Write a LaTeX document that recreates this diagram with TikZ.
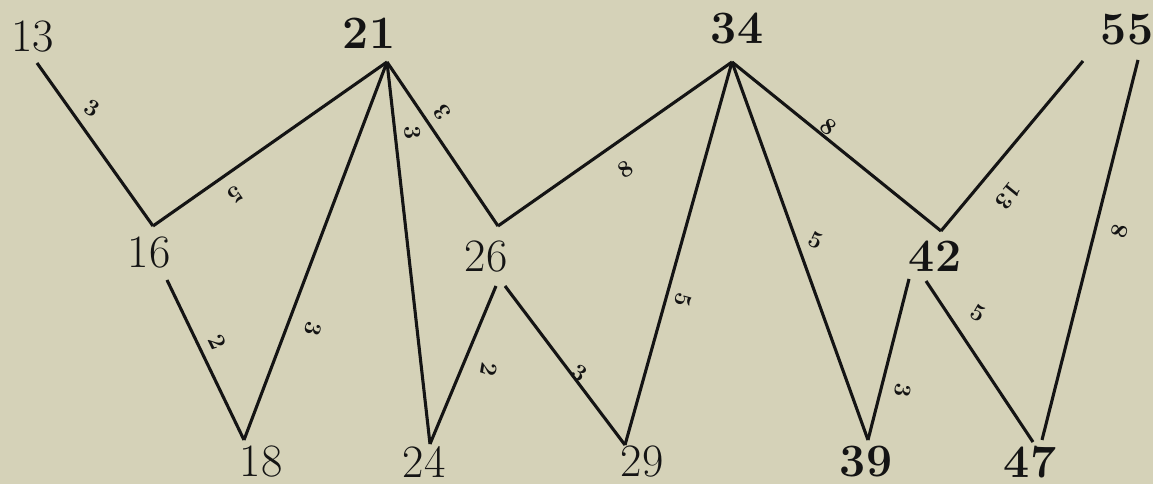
\documentclass[tikz,border=0pt]{standalone}
\usetikzlibrary{positioning}
\definecolor{paper}{RGB}{213,210,184}
\definecolor{ink}{RGB}{20,20,20}
\begin{document}
\begin{tikzpicture}[x=0.025cm, y=-0.025cm,
    edge/.style={draw=ink, line width=2.2pt},
    num/.style={text=ink, font=\fontsize{33}{36}\selectfont, inner sep=0pt},
    bnum/.style={num, font=\fontsize{33}{36}\selectfont\bfseries},
    lbl/.style={text=ink, font=\fontsize{17}{19}\selectfont\bfseries, inner sep=0pt}]
        % Paper and frame of the picture
        \fill[paper] (0,0) rectangle (1153,484);
        \useasboundingbox (0,0) rectangle (1153,484);

        % The numbers, plain ones and bold ones
        \foreach \n/\x/\y in {13/33/37, 16/149/253, 26/486/257, 18/261/462, 24/424/462, 29/642/462} {
            \node[num] (n\n) at (\x,\y) {\n};
          }
        \foreach \n/\x/\y in {21/369/33, 34/737/29, 55/1127/30, 42/935/256, 39/866/462, 47/1030/462} {
            \node[bnum] (n\n) at (\x,\y) {\n};
          }

        % Ends of the lines next to each number
        \coordinate (a13) at (37,63);
        \coordinate (a21) at (387,62);
        \coordinate (a34) at (732,62);
        \coordinate (a55l) at (1083,61);
        \coordinate (a55r) at (1138,60);
        \coordinate (t16) at (153,226);
        \coordinate (t26) at (498,226);
        \coordinate (t42) at (941,231);
        \coordinate (b16) at (167,280);
        \coordinate (b26l) at (496,286);
        \coordinate (b26r) at (505,286);
        \coordinate (b42l) at (909,279);
        \coordinate (b42r) at (926,281);
        \coordinate (v18) at (244,440);
        \coordinate (v24) at (430,444);
        \coordinate (v29) at (625,445);
        \coordinate (v39) at (868,440);
        \coordinate (v47l) at (1033,442);
        \coordinate (v47r) at (1042,440);

        % Draw the lines
        \foreach \a/\b in {a13/t16, t16/a21, b16/v18, v18/a21, a21/v24, a21/t26,
            b26l/v24, b26r/v29, t26/a34, v29/a34, a34/v39, a34/t42,
            b42l/v39, b42r/v47l, t42/a55l, v47r/a55r} {
            \draw[edge] (\a) -- (\b);
          }

        % Differences written along the lines
        \foreach \i/\x/\y/\r/\txt in {1/92/108/-30/3, 2/235/195/215/5, 3/442/112/125/3,
            4/413/133/-86/3, 5/313/329/-105/3, 6/217/342/-64/2, 7/489/369/-100/2,
            8/579/373/-35/3, 9/626/169/35/8, 10/683/300/-105/5, 11/816/240/-25/5,
            12/829/127/-40/8, 13/903/390/-100/3, 14/978/313/-30/5, 15/1008/196/231/13,
            16/1120/231/76/8} {
            \node[lbl, rotate=\r] (d\i) at (\x,\y) {\txt};
          }
      \end{tikzpicture}
\end{document}
